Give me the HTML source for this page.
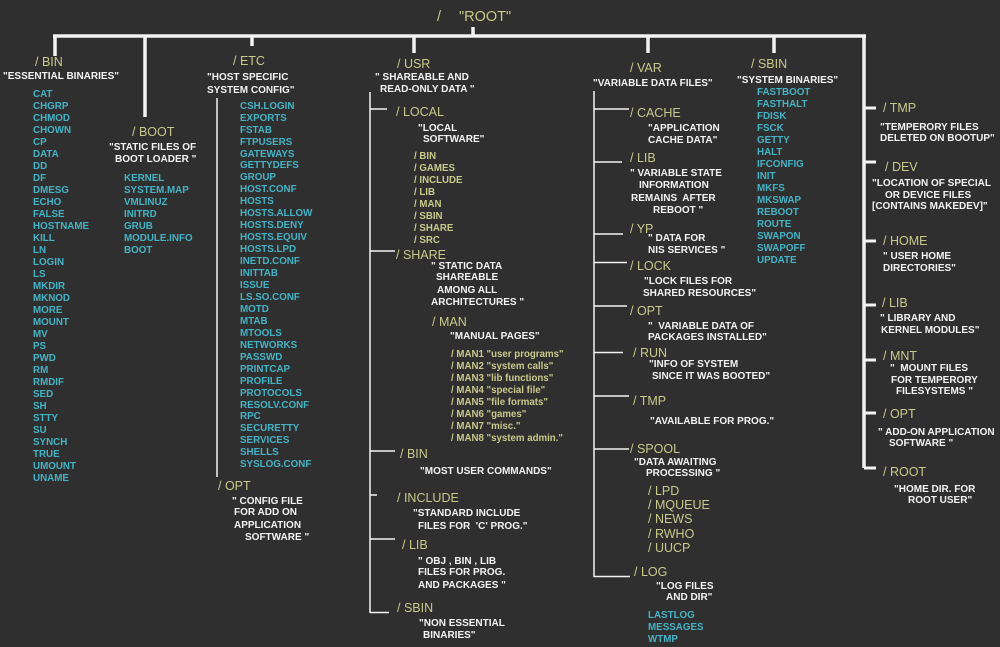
<!DOCTYPE html>
<html>
<head>
<meta charset="utf-8">
<style>
  html,body{margin:0;padding:0;}
  body{width:1000px;height:647px;background:#2f2f2f;position:relative;overflow:hidden;
       font-family:"Liberation Sans",Arial,sans-serif;}
  svg{position:absolute;left:0;top:0;}
  div{position:absolute;white-space:pre;}
  .h{color:#c9c98c;font-size:12.5px;line-height:14px;}
  .w{color:#f3f3f3;font-size:10px;font-weight:bold;line-height:12px;}
  .c{color:#44b3c6;font-size:9.8px;font-weight:bold;line-height:12px;}
  .y{color:#c9c98c;font-size:9.7px;font-weight:bold;line-height:12px;}
  .ys{color:#c9c98c;font-size:12.5px;line-height:14.2px;}
  .r{color:#c9c98c;font-size:14.5px;line-height:16px;}
</style>
</head>
<body>
<svg width="1000" height="647" viewBox="0 0 1000 647">
  <g stroke="#f3f3f3" fill="none">
    <g stroke-width="3.5">
      <line x1="53" y1="36" x2="866" y2="36"/>
      <line x1="55" y1="36" x2="55" y2="56"/>
      <line x1="145" y1="36" x2="145" y2="117"/>
      <line x1="252" y1="36" x2="252" y2="46"/>
      <line x1="414" y1="36" x2="414" y2="53"/>
      <line x1="473" y1="27" x2="473" y2="36"/>
      <line x1="648" y1="36" x2="648" y2="53"/>
      <line x1="774" y1="36" x2="774" y2="53"/>
      <line x1="864" y1="36" x2="864" y2="468"/>
    </g>
    <g stroke-width="3">
      <line x1="864" y1="108" x2="876" y2="108"/>
      <line x1="864" y1="162" x2="876" y2="162"/>
      <line x1="864" y1="241" x2="876" y2="241"/>
      <line x1="864" y1="305" x2="876" y2="305"/>
      <line x1="864" y1="360" x2="876" y2="360"/>
      <line x1="864" y1="413" x2="876" y2="413"/>
      <line x1="864" y1="468" x2="876" y2="468"/>
    </g>
    <g stroke-width="1.5">
      <line x1="217" y1="98" x2="217" y2="477"/>
      <line x1="370" y1="92" x2="370" y2="613"/>
      <line x1="370" y1="109" x2="387" y2="109"/>
      <line x1="370" y1="251" x2="395" y2="251"/>
      <line x1="370" y1="451" x2="395" y2="451"/>
      <line x1="370" y1="495" x2="377" y2="495"/>
      <line x1="370" y1="539" x2="395" y2="539"/>
      <line x1="370" y1="612.5" x2="389" y2="612.5"/>
      <line x1="594" y1="91" x2="594" y2="577"/>
      <line x1="594" y1="109" x2="629" y2="109"/>
      <line x1="594" y1="162" x2="622" y2="162"/>
      <line x1="594" y1="234" x2="623" y2="234"/>
      <line x1="594" y1="262.5" x2="627" y2="262.5"/>
      <line x1="594" y1="306" x2="627" y2="306"/>
      <line x1="594" y1="352.5" x2="623" y2="352.5"/>
      <line x1="594" y1="396" x2="629" y2="396"/>
      <line x1="594" y1="449" x2="629" y2="449"/>
      <line x1="594" y1="576.5" x2="630" y2="576.5"/>
    </g>
  </g>
</svg>

<!-- ROOT -->
<div class="r" style="left:437px;top:9px;">/</div>
<div class="r" style="left:459px;top:9px;">"ROOT"</div>

<!-- BIN -->
<div class="h" style="left:35px;top:55px;">/ BIN</div>
<div class="w" style="left:3px;top:71px;">"ESSENTIAL BINARIES"</div>
<div class="c" style="left:33px;top:89px;">CAT
CHGRP
CHMOD
CHOWN
CP
DATA
DD
DF
DMESG
ECHO
FALSE
HOSTNAME
KILL
LN
LOGIN
LS
MKDIR
MKNOD
MORE
MOUNT
MV
PS
PWD
RM
RMDIF
SED
SH
STTY
SU
SYNCH
TRUE
UMOUNT
UNAME</div>

<!-- BOOT -->
<div class="h" style="left:132px;top:125px;">/ BOOT</div>
<div class="w" style="left:109px;top:142px;">"STATIC FILES OF</div>
<div class="w" style="left:115px;top:154px;">BOOT LOADER "</div>
<div class="c" style="left:124px;top:173px;">KERNEL
SYSTEM.MAP
VMLINUZ
INITRD
GRUB
MODULE.INFO
BOOT</div>

<!-- ETC -->
<div class="h" style="left:233px;top:54px;">/ ETC</div>
<div class="w" style="left:207px;top:72px;">"HOST SPECIFIC</div>
<div class="w" style="left:207px;top:85px;">SYSTEM CONFIG"</div>
<div class="c" style="left:240px;top:100.7px;line-height:11.95px;">CSH.LOGIN
EXPORTS
FSTAB
FTPUSERS
GATEWAYS
GETTYDEFS
GROUP
HOST.CONF
HOSTS
HOSTS.ALLOW
HOSTS.DENY
HOSTS.EQUIV
HOSTS.LPD
INETD.CONF
INITTAB
ISSUE
LS.SO.CONF
MOTD
MTAB
MTOOLS
NETWORKS
PASSWD
PRINTCAP
PROFILE
PROTOCOLS
RESOLV.CONF
RPC
SECURETTY
SERVICES
SHELLS
SYSLOG.CONF</div>
<div class="h" style="left:218px;top:479px;">/ OPT</div>
<div class="w" style="left:232px;top:496px;">" CONFIG FILE</div>
<div class="w" style="left:234px;top:507px;">FOR ADD ON</div>
<div class="w" style="left:234px;top:520px;">APPLICATION</div>
<div class="w" style="left:245px;top:532px;">SOFTWARE "</div>

<!-- USR -->
<div class="h" style="left:397px;top:57px;">/ USR</div>
<div class="w" style="left:375px;top:72px;">" SHAREABLE AND</div>
<div class="w" style="left:380px;top:84px;">READ-ONLY DATA "</div>
<div class="h" style="left:396px;top:105px;">/ LOCAL</div>
<div class="w" style="left:418px;top:123px;">"LOCAL</div>
<div class="w" style="left:423px;top:134px;">SOFTWARE"</div>
<div class="y" style="left:414px;top:150.7px;">/ BIN
/ GAMES
/ INCLUDE
/ LIB
/ MAN
/ SBIN
/ SHARE
/ SRC</div>
<div class="h" style="left:396px;top:248px;">/ SHARE</div>
<div class="w" style="left:431px;top:261px;">" STATIC DATA</div>
<div class="w" style="left:436px;top:272px;">SHAREABLE</div>
<div class="w" style="left:437px;top:285px;">AMONG ALL</div>
<div class="w" style="left:431px;top:297px;">ARCHITECTURES "</div>
<div class="h" style="left:432px;top:315px;">/ MAN</div>
<div class="w" style="left:450px;top:331px;">"MANUAL PAGES"</div>
<div class="y" style="left:451px;top:349px;">/ MAN1 "user programs"
/ MAN2 "system calls"
/ MAN3 "lib functions"
/ MAN4 "special file"
/ MAN5 "file formats"
/ MAN6 "games"
/ MAN7 "misc."
/ MAN8 "system admin."</div>
<div class="h" style="left:400px;top:447px;">/ BIN</div>
<div class="w" style="left:420px;top:466px;">"MOST USER COMMANDS"</div>
<div class="h" style="left:397px;top:491px;">/ INCLUDE</div>
<div class="w" style="left:413px;top:508px;">"STANDARD INCLUDE</div>
<div class="w" style="left:418px;top:521px;">FILES FOR  'C' PROG."</div>
<div class="h" style="left:402px;top:538px;">/ LIB</div>
<div class="w" style="left:418px;top:556px;">" OBJ , BIN , LIB</div>
<div class="w" style="left:418px;top:567px;">FILES FOR PROG.</div>
<div class="w" style="left:418px;top:580px;">AND PACKAGES "</div>
<div class="h" style="left:397px;top:601px;">/ SBIN</div>
<div class="w" style="left:419px;top:618px;">"NON ESSENTIAL</div>
<div class="w" style="left:423px;top:630px;">BINARIES"</div>

<!-- VAR -->
<div class="h" style="left:630px;top:61px;">/ VAR</div>
<div class="w" style="left:593px;top:78px;">"VARIABLE DATA FILES"</div>
<div class="h" style="left:630px;top:106px;">/ CACHE</div>
<div class="w" style="left:648px;top:123px;">"APPLICATION</div>
<div class="w" style="left:648px;top:135px;">CACHE DATA"</div>
<div class="h" style="left:630px;top:151px;">/ LIB</div>
<div class="w" style="left:630px;top:168px;">" VARIABLE STATE</div>
<div class="w" style="left:639px;top:180px;">INFORMATION</div>
<div class="w" style="left:631px;top:193px;">REMAINS  AFTER</div>
<div class="w" style="left:653px;top:205px;">REBOOT "</div>
<div class="h" style="left:630px;top:222px;">/ YP</div>
<div class="w" style="left:648px;top:233px;">" DATA FOR</div>
<div class="w" style="left:648px;top:245px;">NIS SERVICES "</div>
<div class="h" style="left:630px;top:259px;">/ LOCK</div>
<div class="w" style="left:644px;top:276px;">"LOCK FILES FOR</div>
<div class="w" style="left:643px;top:288px;">SHARED RESOURCES"</div>
<div class="h" style="left:630px;top:304px;">/ OPT</div>
<div class="w" style="left:648px;top:321px;">"  VARIABLE DATA OF</div>
<div class="w" style="left:648px;top:332px;">PACKAGES INSTALLED"</div>
<div class="h" style="left:633px;top:346px;">/ RUN</div>
<div class="w" style="left:649px;top:359px;">"INFO OF SYSTEM</div>
<div class="w" style="left:652px;top:371px;">SINCE IT WAS BOOTED"</div>
<div class="h" style="left:633px;top:394px;">/ TMP</div>
<div class="w" style="left:650px;top:416px;">"AVAILABLE FOR PROG."</div>
<div class="h" style="left:630px;top:442px;">/ SPOOL</div>
<div class="w" style="left:634px;top:457px;">"DATA AWAITING</div>
<div class="w" style="left:646px;top:468px;">PROCESSING "</div>
<div class="ys" style="left:648px;top:484px;">/ LPD
/ MQUEUE
/ NEWS
/ RWHO
/ UUCP</div>
<div class="h" style="left:634px;top:565px;">/ LOG</div>
<div class="w" style="left:656px;top:581px;">"LOG FILES</div>
<div class="w" style="left:666px;top:592px;">AND DIR"</div>
<div class="c" style="left:648px;top:609.7px;">LASTLOG
MESSAGES
WTMP</div>

<!-- SBIN -->
<div class="h" style="left:751px;top:57px;">/ SBIN</div>
<div class="w" style="left:737px;top:75px;">"SYSTEM BINARIES"</div>
<div class="c" style="left:757px;top:87.3px;">FASTBOOT
FASTHALT
FDISK
FSCK
GETTY
HALT
IFCONFIG
INIT
MKFS
MKSWAP
REBOOT
ROUTE
SWAPON
SWAPOFF
UPDATE</div>

<!-- RIGHT COLUMN -->
<div class="h" style="left:883px;top:101px;">/ TMP</div>
<div class="w" style="left:880px;top:122px;">"TEMPERORY FILES</div>
<div class="w" style="left:880px;top:133px;">DELETED ON BOOTUP"</div>
<div class="h" style="left:885px;top:160px;">/ DEV</div>
<div class="w" style="left:872px;top:178px;">"LOCATION OF SPECIAL</div>
<div class="w" style="left:885px;top:190px;">OR DEVICE FILES</div>
<div class="w" style="left:872px;top:201px;">[CONTAINS MAKEDEV]"</div>
<div class="h" style="left:883px;top:234px;">/ HOME</div>
<div class="w" style="left:883px;top:251px;">" USER HOME</div>
<div class="w" style="left:883px;top:263px;">DIRECTORIES"</div>
<div class="h" style="left:882px;top:296px;">/ LIB</div>
<div class="w" style="left:880px;top:313px;">" LIBRARY AND</div>
<div class="w" style="left:881px;top:325px;">KERNEL MODULES"</div>
<div class="h" style="left:883px;top:349px;">/ MNT</div>
<div class="w" style="left:890px;top:363px;">"  MOUNT FILES</div>
<div class="w" style="left:891px;top:375px;">FOR TEMPERORY</div>
<div class="w" style="left:896px;top:386px;">FILESYSTEMS "</div>
<div class="h" style="left:883px;top:407px;">/ OPT</div>
<div class="w" style="left:878px;top:427px;">" ADD-ON APPLICATION</div>
<div class="w" style="left:889px;top:438px;">SOFTWARE "</div>
<div class="h" style="left:883px;top:465px;">/ ROOT</div>
<div class="w" style="left:894px;top:484px;">"HOME DIR. FOR</div>
<div class="w" style="left:908px;top:495px;">ROOT USER"</div>
</body>
</html>
